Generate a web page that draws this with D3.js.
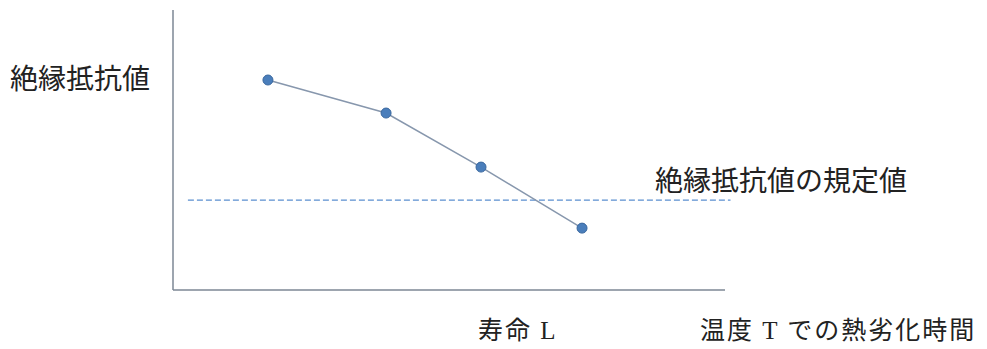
<!DOCTYPE html>
<html>
<head>
<meta charset="utf-8">
<script src="https://cdn.jsdelivr.net/npm/d3@7"></script>
<style>
  body { margin: 0; background: #fff; }
  svg { display: block; }
</style>
</head>
<body>
<script>
// data (arbitrary units)
const times = [17.2, 38.6, 55.8, 74.1]
const resistance = [75, 63.2, 43.9, 22.1]
const threshold = 32.1
const yLabel = '絶縁抵抗値'
const thresholdLabel = '絶縁抵抗値の規定値'
const lifeLabel = '寿命 L'
const xLabel = '温度 T での熱劣化時間'

const width = 987
const height = 349
const margin = { top: 10, right: 262, bottom: 59, left: 173 }

const svg = d3.select('body')
  .append('svg')
  .attr('width', width)
  .attr('height', height)

const x = d3.scaleLinear()
  .domain([0, 100])
  .range([margin.left, width - margin.right])

const y = d3.scaleLinear()
  .domain([0, 100])
  .range([height - margin.bottom, margin.top])

const points = times.map((t, i) => ({ t: t, r: resistance[i] }))

// axes (plain lines, no ticks)
svg.append('line')
  .attr('x1', x(0)).attr('x2', x(0))
  .attr('y1', y(100)).attr('y2', y(0))
  .attr('stroke', '#7d8794')
  .attr('stroke-width', 1.5)

svg.append('line')
  .attr('x1', x(0)).attr('x2', x(100))
  .attr('y1', y(0)).attr('y2', y(0))
  .attr('stroke', '#7d8794')
  .attr('stroke-width', 1.5)

// threshold line
svg.append('line')
  .attr('x1', x(2.7)).attr('x2', x(101))
  .attr('y1', y(threshold)).attr('y2', y(threshold))
  .attr('stroke', '#5b8fd0')
  .attr('stroke-width', 1.3)
  .attr('stroke-dasharray', '6,3')

// data line
const line = d3.line()
  .x(d => x(d.t))
  .y(d => y(d.r))

svg.append('path')
  .datum(points)
  .attr('d', line)
  .attr('fill', 'none')
  .attr('stroke', '#8797ad')
  .attr('stroke-width', 1.5)

svg.selectAll('circle.pt')
  .data(points)
  .enter()
  .append('circle')
  .attr('class', 'pt')
  .attr('cx', d => x(d.t))
  .attr('cy', d => y(d.r))
  .attr('r', 5)
  .attr('fill', '#4a7ebb')
  .attr('stroke', '#3a689f')
  .attr('stroke-width', 1)

// labels
const sans = '"Noto Sans CJK JP", sans-serif'
const serif = '"Liberation Serif", "Noto Sans CJK JP", serif'

svg.append('text')
  .attr('x', 10).attr('y', 89)
  .style('font-family', sans)
  .style('font-size', '28px')
  .style('fill', '#222')
  .text(yLabel)

svg.append('text')
  .attr('x', 655).attr('y', 191)
  .style('font-family', sans)
  .style('font-size', '28px')
  .style('fill', '#222')
  .text(thresholdLabel)

svg.append('text')
  .attr('x', 478).attr('y', 339)
  .style('font-family', serif)
  .style('font-size', '25px')
  .style('letter-spacing', '2px')
  .style('fill', '#222')
  .text(lifeLabel)

svg.append('text')
  .attr('x', 700).attr('y', 339)
  .style('font-family', serif)
  .style('font-size', '25px')
  .style('letter-spacing', '2px')
  .style('fill', '#222')
  .text(xLabel)
</script>
</body>
</html>
